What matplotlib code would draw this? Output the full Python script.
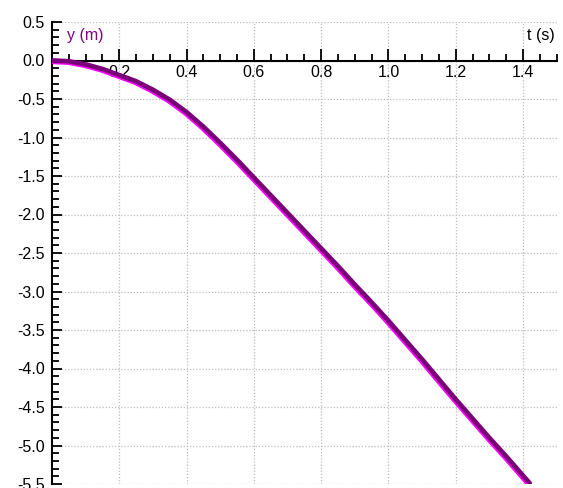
import matplotlib
matplotlib.use("Agg")
import matplotlib.pyplot as plt
import matplotlib.transforms as mtransforms
from matplotlib.ticker import FixedLocator, MultipleLocator, FuncFormatter

# position of the falling object
t = [0.0, 0.05, 0.1, 0.15, 0.2, 0.25, 0.3, 0.35, 0.4, 0.45, 0.5, 0.55, 0.6, 0.65,
     0.7, 0.75, 0.8, 0.85, 0.9, 0.95, 1.0, 1.05, 1.1, 1.15, 1.2, 1.25, 1.3, 1.35,
     1.4, 1.42]
y = [0.0, -0.01, -0.05, -0.11, -0.19, -0.27, -0.38, -0.51, -0.67, -0.86, -1.07,
     -1.29, -1.52, -1.75, -1.98, -2.21, -2.44, -2.67, -2.91, -3.14, -3.38, -3.63,
     -3.88, -4.14, -4.40, -4.65, -4.90, -5.14, -5.39, -5.49]

x_major = [0.2, 0.4, 0.6, 0.8, 1.0, 1.2, 1.4]
y_major = [0.5, 0.0, -0.5, -1.0, -1.5, -2.0, -2.5, -3.0, -3.5, -4.0, -4.5, -5.0, -5.5]

plt.rcParams['font.family'] = ['Liberation Sans', 'DejaVu Sans']
plt.rcParams['axes.unicode_minus'] = False

fig = plt.figure(figsize=(5.63, 4.88), dpi=100)
ax = fig.add_axes([52 / 563, 4 / 488, 504.6 / 563, 462 / 488])
ax.set_xlim(0, 1.5)
ax.set_ylim(-5.5, 0.5)

# curve: magenta trace slightly shifted, purple on top
shift = mtransforms.offset_copy(ax.transData, fig=fig, x=-1.0, y=-1.0, units='dots')
ax.plot(t, y, color='#ff00ff', lw=3.8, transform=shift, zorder=3, solid_capstyle='round')
ax.plot(t, y, color='#7a007a', lw=3.4, zorder=4, solid_capstyle='round')

ax.spines['top'].set_visible(False)
ax.spines['right'].set_visible(False)
ax.spines['bottom'].set_position(('data', 0))
ax.spines['left'].set_position(('data', 0))
ax.spines['bottom'].set_linewidth(1.5)
ax.spines['left'].set_linewidth(1.5)

ax.xaxis.set_major_locator(FixedLocator(x_major))
ax.xaxis.set_minor_locator(MultipleLocator(0.05))
ax.yaxis.set_major_locator(FixedLocator(y_major))
ax.yaxis.set_minor_locator(MultipleLocator(0.1))
fmt = FuncFormatter(lambda v, p: f"{v:.1f}")
ax.xaxis.set_major_formatter(fmt)
ax.yaxis.set_major_formatter(fmt)

ax.tick_params(axis='both', which='both', direction='in', colors='black',
               labelsize=11.5, width=1.3)
ax.tick_params(axis='x', which='major', length=8.5, pad=3)
ax.tick_params(axis='x', which='minor', length=5)
ax.tick_params(axis='y', which='major', length=7, pad=5)
ax.tick_params(axis='y', which='minor', length=5)

ax.grid(True, which='major', color='#bdbdbd', linestyle=(0, (1, 1.5)), linewidth=0.9)
ax.set_axisbelow(True)

blend = mtransforms.blended_transform_factory(ax.transAxes, ax.transData)
ax.text(0.03, 0.33, 'y (m)', color='#800080', fontsize=11.5,
        transform=blend, va='center', ha='left')
ax.text(0.997, 0.33, 't (s)', color='black', fontsize=11.5,
        transform=blend, va='center', ha='right')

fig.savefig('out.png', dpi=100)
